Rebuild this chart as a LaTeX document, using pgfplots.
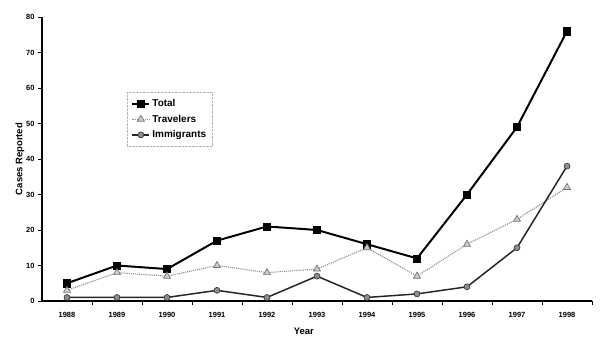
\documentclass[border=0pt]{standalone}
\usepackage{pgfplots}
\pgfplotsset{compat=1.18}
\usepackage{fontspec}
\setmainfont{Liberation Sans}
\begin{document}
\begin{tikzpicture}[x=1bp,y=1bp]
\useasboundingbox (-42,-52) rectangle (558,301);
\begin{axis}[
  at={(0,0)}, anchor=south west,
  scale only axis, width=550bp, height=284bp,
  xmin=-0.5, xmax=10.5, ymin=0, ymax=80,
  axis lines*=left,
  axis line style={line width=1.8pt, -},
  xtick={0,...,10},
  xticklabels={1988,1989,1990,1991,1992,1993,1994,1995,1996,1997,1998},
  minor xtick={0.5,1.5,...,10.5},
  major x tick style={draw=none},
  minor x tick style={line width=1pt, black},
  ytick={0,10,...,80},
  ytick style={line width=1pt, black},
  tick align=outside,
  major tick length=4bp, minor tick length=4bp,
  tick label style={font=\bfseries\fontsize{7.5}{8}\selectfont},
  /pgf/number format/assume math mode=true,
  xticklabel style={yshift=-4bp},
  xlabel={\bfseries Year},
  ylabel={\bfseries Cases Reported},
  label style={font=\bfseries\fontsize{9.5}{10}\selectfont},
  xlabel style={at={(rel axis cs:0.476,0)}, anchor=north, yshift=-23bp},
  ylabel style={yshift=-5bp},
  legend style={at={(rel axis cs:0.155,0.736)}, anchor=north west,
    draw=gray!60, densely dotted, font=\bfseries\fontsize{10}{12}\selectfont,
    row sep=3pt, inner xsep=4pt, inner ysep=5pt},
  legend cell align=left,
  clip=false,
]
\addplot[black, line width=2pt, mark=square*, mark size=3.6bp, mark options={solid, fill=black, line width=0.5pt}]
  coordinates {(0,5)(1,10)(2,9)(3,17)(4,21)(5,20)(6,16)(7,12)(8,30)(9,49)(10,76)};
\addlegendentry{Total}
\addplot[color=black!45, line width=1.1pt, densely dotted, mark=triangle*, mark size=4bp, mark options={solid, fill=black!20, draw=black!55, line width=0.7pt}]
  coordinates {(0,3)(1,8)(2,7)(3,10)(4,8)(5,9)(6,15)(7,7)(8,16)(9,23)(10,32)};
\addlegendentry{Travelers}
\addplot[color=black!85, line width=1.5pt, mark=*, mark size=3bp, mark options={solid, fill=black!45, draw=black!80, line width=0.6pt}]
  coordinates {(0,1)(1,1)(2,1)(3,3)(4,1)(5,7)(6,1)(7,2)(8,4)(9,15)(10,38)};
\addlegendentry{Immigrants}
\end{axis}
\end{tikzpicture}
\end{document}
